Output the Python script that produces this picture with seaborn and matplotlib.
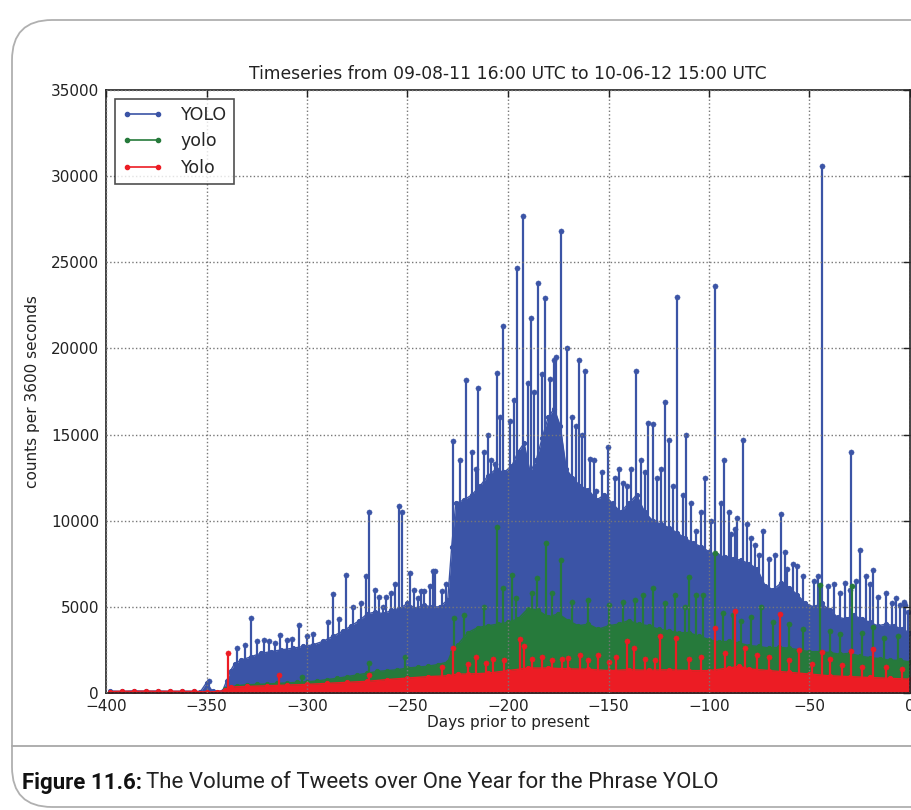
import numpy as np
import matplotlib
matplotlib.use("Agg")
import matplotlib.pyplot as plt
import seaborn as sns
from matplotlib.lines import Line2D
from matplotlib.patches import FancyBboxPatch
from matplotlib.transforms import IdentityTransform

# --- DATA ---
title = "Timeseries from 09-08-11 16:00 UTC to 10-06-12 15:00 UTC"
x_label = "Days prior to present"
y_label = "counts per 3600 seconds"
caption_bold = "Figure 11.6:"
caption_text = "The Volume of Tweets over One Year for the Phrase YOLO"

# YOLO: level of the solid mass
blue_days = [-398, -392, -386, -380, -374, -368, -362, -356, -353, -350, -347, -342, -340, -338,
             -336, -333, -328, -323, -318, -313, -307, -302, -297, -292, -287, -282, -278, -274,
             -270, -266, -262, -258, -254, -250, -246, -242, -238, -234, -230, -228, -226, -222,
             -218, -214, -210, -206, -202, -198, -195, -192, -189, -186, -183, -180, -177, -174,
             -171, -168, -164, -160, -156, -152, -148, -144, -140, -136, -132, -128, -124, -120,
             -116, -112, -108, -104, -100, -96, -92, -88, -84, -80, -76, -72, -68, -64, -60, -56,
             -52, -48, -44, -40, -36, -32, -28, -24, -20, -16, -12, -8, -4, 0]
blue_vals = [120, 90, 130, 100, 120, 90, 110, 100, 80, 600, 90, 120, 700, 1300,
             1700, 1900, 2100, 2300, 2400, 2500, 2600, 2700, 2800, 3000, 3300, 3600, 3900, 4200,
             4600, 4700, 4600, 4800, 4900, 5200, 4900, 5100, 5000, 5000, 5400, 8500, 11000, 11200,
             11500, 12000, 12600, 13000, 12800, 13200, 14000, 14500, 12800, 13500, 14800, 16000, 16500, 15500,
             13000, 12500, 12000, 11800, 11200, 11500, 11000, 10500, 11000, 11500, 10500, 10000, 9800, 9600,
             9300, 9000, 8700, 8500, 8200, 8000, 7900, 7800, 7700, 7500, 7200, 6200, 6000, 6400, 6100, 5700,
             5200, 5000, 5200, 4800, 4400, 4300, 4500, 4300, 4100, 3900, 4000, 3900, 3700, 3500]

# YOLO: hourly peaks (big ones)
blue_spike_days = [-348.8, -327.7, -321.5, -318.7, -313.2, -307.5, -304.2, -292, -289.6, -287,
                   -280.8, -270.6, -269.0, -262.3, -260.6, -254.3, -252.6, -249, -243.2, -241.7,
                   -237.5, -236.3, -227.5, -221.0, -214.7, -211.7, -208.7, -206.7, -205.5, -202.3,
                   -199, -195.5, -192.4, -188.8, -185.2, -181.5, -179, -177.3, -173.8, -170.5,
                   -164.8, -161.7, -159, -156, -150.3, -143, -141, -136.4, -130.1, -128.1,
                   -121.7, -120, -115.8, -111.6, -106.6, -101.8, -96.8, -92.5, -89, -86.3,
                   -83.2, -73.2, -64.3, -61, -43.8, -32.5, -29.2, -25, -18.6, -5, -2.5]
blue_spike_vals = [700, 4340, 3100, 3000, 3370, 3150, 3920, 2850, 4150, 5750,
                   6830, 6800, 10480, 4980, 5600, 10830, 10520, 6950, 5900, 5900,
                   7080, 7100, 14600, 18150, 17700, 14000, 13500, 13300, 18600, 21300,
                   15800, 24650, 27700, 21750, 23800, 22900, 18200, 19300, 26800, 20000,
                   19300, 18700, 13600, 11700, 14300, 12200, 12000, 18700, 15700, 15600,
                   16900, 14700, 23000, 15000, 9400, 12500, 23600, 13500, 9200, 10150,
                   14700, 9400, 10400, 7200, 30600, 6400, 14000, 8300, 7150, 5100, 5100]
# YOLO: smaller peaks along the top of the mass
blue_minor_days = [-335, -331, -325, -316, -310, -300, -297, -284, -277, -273, -266, -264, -258,
                   -256, -247, -245, -239, -233, -231, -224, -218, -216, -210, -204, -197, -190,
                   -187, -183, -176, -168, -166, -163, -157, -153, -147, -145, -139, -134, -132,
                   -126, -124, -118, -113, -109, -104, -99, -94, -90, -87, -81, -79, -77, -75,
                   -70, -67, -62, -58, -56, -53, -48, -46, -41, -38, -35, -30, -27, -22, -20,
                   -16, -12, -9, -7, -3, -1]
blue_minor_vals = [2600, 2800, 3000, 2900, 3100, 3300, 3400, 4300, 5000, 5200, 6000, 5600, 5800,
                   6300, 6000, 5500, 6200, 5900, 6300, 13500, 14000, 13000, 15000, 16000, 17000, 18000,
                   17500, 18500, 19500, 16000, 15500, 15000, 13500, 12800, 12500, 13000, 13000, 13500, 12800,
                   12500, 13000, 12000, 11500, 11000, 10500, 10000, 11000, 10500, 9500, 9800, 9000, 8600, 8000,
                   7800, 8000, 8200, 7500, 7400, 6800, 6500, 6800, 6200, 6300, 5800, 6000, 6500, 6800, 6300,
                   5600, 5800, 5200, 5500, 5300, 4700]

# yolo
green_days = [-341, -335, -330, -325, -320, -315, -310, -305, -300, -295, -290, -285, -280, -275,
              -270, -265, -260, -255, -250, -245, -240, -235, -230, -228, -225, -220, -215, -210,
              -205, -200, -195, -190, -185, -180, -175, -170, -165, -160, -155, -150, -145, -140,
              -135, -130, -125, -120, -115, -110, -105, -100, -95, -90, -85, -80, -75, -70, -65,
              -60, -55, -50, -45, -40, -35, -30, -25, -20, -15, -10, -5, 0]
green_vals = [250, 420, 480, 500, 520, 560, 580, 620, 650, 700, 780, 850, 950, 1050,
              1150, 1250, 1300, 1350, 1450, 1500, 1550, 1650, 1800, 2400, 2800, 3500, 3800, 3900,
              4000, 4100, 4300, 4900, 4800, 4400, 4600, 4200, 3900, 4000, 3700, 3900, 4000, 4200,
              4000, 3900, 3700, 3600, 3500, 3500, 3300, 3100, 2950, 3000, 2900, 2750, 2700, 2600, 2650,
              2600, 2500, 2400, 2400, 2350, 2250, 2300, 2150, 2050, 2000, 1900, 1900, 1800]
green_spike_days = [-302.5, -269, -251, -226.7, -205.6, -202.4, -198.2, -185.4, -181, -173.6,
                    -127.8, -116.9, -109.8, -106.5, -102.8, -97, -92.9, -74, -44.8, -29.1, -18.4]
green_spike_vals = [900, 1750, 2100, 4350, 9650, 6080, 6850, 6700, 8700, 7700,
                    6100, 5700, 6750, 5700, 5700, 8100, 4620, 5000, 6270, 6200, 3850]
green_minor_days = [-222, -212, -196, -188, -178, -168, -160, -150, -143, -137, -133, -122, -112,
                    -88, -84, -79, -68, -60, -53, -40, -35, -24, -13, -6]
green_minor_vals = [4500, 5000, 5500, 5800, 5800, 5300, 5400, 5100, 5300, 5400, 5700, 5200, 5000,
                    4500, 4200, 4400, 4100, 4000, 3700, 3600, 3400, 3500, 3200, 3300]

# Yolo
red_days = [-398, -392, -386, -380, -374, -368, -362, -356, -350, -345, -341, -338, -330, -320,
            -310, -300, -290, -280, -270, -260, -250, -240, -230, -225, -220, -210, -200, -190,
            -180, -170, -160, -150, -140, -130, -120, -110, -100, -90, -85, -80, -70, -60, -50,
            -40, -30, -20, -10, 0]
red_vals = [80, 110, 90, 120, 90, 110, 90, 100, 60, 80, 150, 350, 380, 420,
            460, 500, 560, 620, 680, 780, 870, 950, 1000, 1100, 1100, 1150, 1300, 1450,
            1450, 1400, 1380, 1300, 1350, 1320, 1350, 1300, 1300, 1450, 1550, 1400, 1300, 1200, 1100,
            1000, 950, 900, 850, 800]
red_spike_days = [-339.5, -314, -269.2, -227.2, -215.9, -210.9, -207.7, -194, -192, -172.9,
                  -170, -164.2, -146.1, -141, -137.5, -124.5, -116.5, -97, -87, -64.6,
                  -55.1, -44, -39.8, -29.6, -18.3]
red_spike_vals = [2350, 1050, 1050, 2600, 2100, 1750, 2000, 3150, 2750, 2000,
                  2050, 2200, 2100, 3000, 2600, 3300, 3200, 3800, 4750, 4600,
                  2500, 2400, 2000, 2450, 2550]
red_minor_days = [-233, -220, -202, -188, -183, -178, -160, -155, -150, -132, -127, -110, -104,
                  -92, -82, -76, -70, -60, -49, -34, -24, -12, -4]
red_minor_vals = [1500, 1700, 1900, 2000, 2100, 1900, 1900, 2200, 1800, 2000, 1900, 2000, 2100,
                  2300, 2600, 2200, 2100, 1900, 1700, 1600, 1500, 1500, 1400]

x_ticks = [-400, -350, -300, -250, -200, -150, -100, -50, 0]
y_ticks = [0, 5000, 10000, 15000, 20000, 25000, 30000, 35000]

series = [
    ("YOLO", "#3b54a6", blue_days, blue_vals,
     blue_spike_days + blue_minor_days, blue_spike_vals + blue_minor_vals),
    ("yolo", "#267a3b", green_days, green_vals,
     green_spike_days + green_minor_days, green_spike_vals + green_minor_vals),
    ("Yolo", "#ec1c24", red_days, red_vals,
     red_spike_days + red_minor_days, red_spike_vals + red_minor_vals),
]

# --- FIGURE ---
sns.set_style("white")
plt.rcParams["font.family"] = ["DejaVu Sans"]

fig = plt.figure(figsize=(9.12, 8.1), dpi=100)
ax = fig.add_axes([106 / 912, 1 - 693 / 810, 804 / 912, 603 / 810])

handles = []
for i, (name, color, days, vals, sp_days, sp_vals) in enumerate(series):
    z = 2 + i * 0.1
    ax.fill_between(days, 0, vals, color=color, linewidth=0, zorder=z)
    ax.vlines(sp_days, 0, sp_vals, color=color, linewidth=1.6, zorder=z)
    sns.lineplot(x=days, y=vals, ax=ax, color=color, estimator=None, sort=False,
                 linewidth=1.0, marker="o", markersize=3, markeredgecolor=color,
                 zorder=z, legend=False)
    sns.scatterplot(x=sp_days, y=sp_vals, ax=ax, color=color, s=14,
                    edgecolor=color, zorder=z, legend=False)
    handles.append(Line2D([], [], color=color, marker="o", markersize=3,
                          markeredgecolor=color, linewidth=1.2, label=name))

ax.set_xlim(-400, 0)
ax.set_ylim(0, 35000)
ax.set_xticks(x_ticks)
ax.set_yticks(y_ticks)
ax.grid(True, linestyle=":", color="#777777", linewidth=1.0)
ax.set_axisbelow(False)
for sp in ax.spines.values():
    sp.set_color("#222222")
    sp.set_linewidth(1.2)
ax.tick_params(direction="in", top=True, right=True, length=5, width=1,
               labelsize=11, colors="#222222", pad=5)
ax.tick_params(axis="x", pad=4)

ax.set_title(title, fontsize=12.3, color="#222222", pad=8)
ax.set_xlabel(x_label, fontsize=11, color="#222222", labelpad=1)
ax.set_ylabel(y_label, fontsize=11, color="#222222", labelpad=8)

leg = ax.legend(handles=handles, loc="upper left", numpoints=2, fontsize=12.5,
                frameon=True, fancybox=False, borderaxespad=0.5, handlelength=2.4,
                handletextpad=1.0, borderpad=0.4, labelspacing=0.5)
leg.get_frame().set_edgecolor("#222222")
leg.get_frame().set_linewidth(1.2)

# --- card frame and caption ---
card = FancyBboxPatch((12, 3), 1000, 787, boxstyle="round,pad=0,rounding_size=40",
                      transform=IdentityTransform(), facecolor="none",
                      edgecolor="#b0b0b0", linewidth=1.3)
fig.patches.append(card)
fig.add_artist(Line2D([12 / 912, 1.0], [64 / 810, 64 / 810], transform=fig.transFigure,
                      color="#a8a8a8", linewidth=1.3))

cap_font = ["Liberation Sans Narrow", "Roboto", "DejaVu Sans"]
t1 = fig.text(22 / 912, 27 / 810, caption_bold, fontsize=16, fontweight="bold",
              family=cap_font, va="center", ha="left", color="#111111")
fig.canvas.draw()
bb = t1.get_window_extent(renderer=fig.canvas.get_renderer())
fig.text((bb.x1 + 4) / 912, 27 / 810, caption_text, fontsize=16,
         family=cap_font, va="center", ha="left", color="#222222")

fig.savefig("out.png", dpi=100)
